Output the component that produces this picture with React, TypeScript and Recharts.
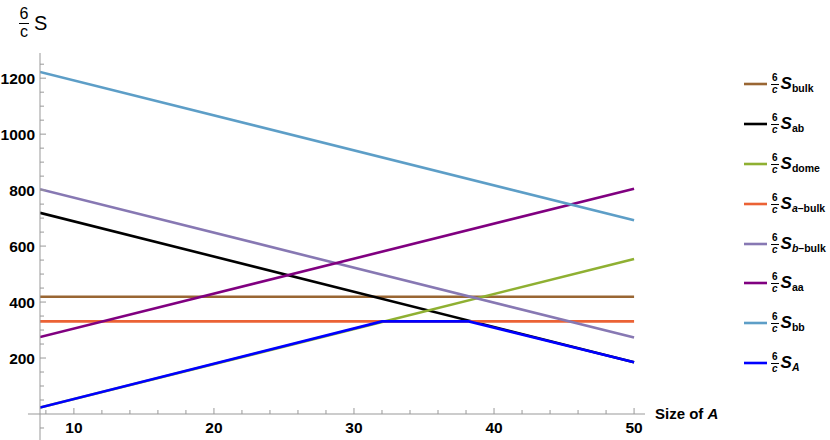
import React from 'react';
import { LineChart, Line, XAxis, YAxis, ReferenceLine } from 'recharts';

// ---------- data ----------
const X_MIN = 7.58;
const X_MAX = 50.78;
const Y_MIN = 0;
const Y_MAX = 1290;

const xTicks = [8, 10, 12, 14, 16, 18, 20, 22, 24, 26, 28, 30, 32, 34, 36, 38, 40, 42, 44, 46, 48, 50];
const xMajor = [10, 20, 30, 40, 50];
const yTicks = [50, 100, 150, 200, 250, 300, 350, 400, 450, 500, 550, 600, 650, 700, 750, 800, 850, 900, 950, 1000, 1050, 1100, 1150, 1200, 1250];
const yMajor = [200, 400, 600, 800, 1000, 1200];

const sBulk = [{ x: 7.58, y: 419 }, { x: 50, y: 419 }];
const sAb = [{ x: 7.58, y: 719 }, { x: 50, y: 185 }];
const sDome = [{ x: 7.58, y: 23 }, { x: 50, y: 554 }];
const sABulk = [{ x: 7.58, y: 331 }, { x: 50, y: 331 }];
const sBBulk = [{ x: 7.58, y: 803 }, { x: 50, y: 273 }];
const sAa = [{ x: 7.58, y: 275 }, { x: 50, y: 805 }];
const sBb = [{ x: 7.58, y: 1222 }, { x: 50, y: 692 }];
const sA = [{ x: 7.58, y: 23 }, { x: 32, y: 331 }, { x: 38.2, y: 331 }, { x: 50, y: 185 }];

type Series = { name: string; data: { x: number; y: number }[]; color: string; subPre?: string; sub: string; subItalic?: boolean };

const series: Series[] = [
  { name: 'bulk', data: sBulk, color: '#996633', sub: 'bulk' },
  { name: 'ab', data: sAb, color: '#000000', sub: 'ab' },
  { name: 'dome', data: sDome, color: '#8FB032', sub: 'dome' },
  { name: 'a-bulk', data: sABulk, color: '#EB6235', subPre: 'a', sub: '\u2013bulk' },
  { name: 'b-bulk', data: sBBulk, color: '#8778B3', subPre: 'b', sub: '\u2013bulk' },
  { name: 'aa', data: sAa, color: '#800080', sub: 'aa' },
  { name: 'bb', data: sBb, color: '#5D9EC7', sub: 'bb' },
  { name: 'A', data: sA, color: '#0000FF', sub: 'A', subItalic: true },
];

// ---------- styling ----------
const FONT = '"Liberation Sans", Arial, sans-serif';
const AXIS = '#999999';
const W = 830;
const H = 440;

const XTick = (props: any) => {
  const { x, y, payload } = props;
  const major = xMajor.includes(payload.value);
  return (
    <g>
      <line x1={x} x2={x} y1={y} y2={y - (major ? 6 : 4)} stroke={AXIS} strokeWidth={1} />
      {major && (
        <text x={x} y={y + 19} textAnchor="middle" fontFamily={FONT} fontWeight="bold" fontSize={15.5} fill="#000">
          {payload.value}
        </text>
      )}
    </g>
  );
};

const YTick = (props: any) => {
  const { x, y, payload } = props;
  const major = yMajor.includes(payload.value);
  return (
    <g>
      <line x1={x} x2={x + (major ? 6 : 4)} y1={y} y2={y} stroke={AXIS} strokeWidth={1} />
      {major && (
        <text x={x - 5} y={y + 5.5} textAnchor="end" fontFamily={FONT} fontWeight="bold" fontSize={15.5} fill="#000">
          {payload.value}
        </text>
      )}
    </g>
  );
};

const Frac = ({ size, italicC, bold }: { size: number; italicC?: boolean; bold?: boolean }) => (
  <span
    style={{
      display: 'inline-flex',
      flexDirection: 'column',
      alignItems: 'center',
      lineHeight: 1,
      fontSize: size,
      fontWeight: bold ? 'bold' : 'normal',
      marginRight: 2,
    }}
  >
    <span style={{ paddingBottom: 1 }}>6</span>
    <span style={{ borderTop: '1px solid #000', fontStyle: italicC ? 'italic' : 'normal', padding: '0 1px' }}>c</span>
  </span>
);

export default function App() {
  return (
    <div style={{ position: 'absolute', left: 0, top: 0, width: W, height: H, background: '#fff', fontFamily: FONT }}>
      <LineChart width={W} height={H} margin={{ top: 53, right: 185, bottom: 0, left: 0 }}>
        <XAxis
          type="number"
          dataKey="x"
          domain={[X_MIN, X_MAX]}
          ticks={xTicks}
          interval={0}
          tickSize={0}
          tickMargin={0}
          tickLine={false}
          axisLine={{ stroke: AXIS, strokeWidth: 1 }}
          tick={<XTick />}
          height={26}
          allowDataOverflow
        />
        <YAxis
          type="number"
          domain={[Y_MIN, Y_MAX]}
          ticks={yTicks}
          interval={0}
          tickSize={0}
          tickMargin={0}
          tickLine={false}
          axisLine={{ stroke: AXIS, strokeWidth: 1 }}
          tick={<YTick />}
          width={40}
          allowDataOverflow
        />
        {/* axis extensions (Mathematica-style axes crossing) */}
        <ReferenceLine segment={[{ x: X_MIN, y: 0 }, { x: X_MIN, y: -95 }]} stroke={AXIS} strokeWidth={1} ifOverflow="visible" />
        <ReferenceLine segment={[{ x: X_MIN, y: -50 }, { x: X_MIN + 0.29, y: -50 }]} stroke={AXIS} strokeWidth={1} ifOverflow="visible" />
        <ReferenceLine segment={[{ x: X_MIN - 0.86, y: 0 }, { x: X_MIN, y: 0 }]} stroke={AXIS} strokeWidth={1} ifOverflow="visible" />
        {series.map((s) => (
          <Line
            key={s.name}
            data={s.data}
            dataKey="y"
            type="linear"
            stroke={s.color}
            strokeWidth={2.6}
            dot={false}
            activeDot={false}
            isAnimationActive={false}
          />
        ))}
      </LineChart>

      {/* y-axis label */}
      <div style={{ position: 'absolute', left: 19, top: 6, display: 'flex', alignItems: 'center', color: '#000' }}>
        <Frac size={16} />
        <span style={{ fontSize: 20, marginLeft: 3 }}>S</span>
      </div>

      {/* x-axis label */}
      <div style={{ position: 'absolute', left: 655, top: 405, fontSize: 15, fontWeight: 'bold', color: '#000', lineHeight: '18px' }}>
        Size of <i>A</i>
      </div>

      {/* legend */}
      <div style={{ position: 'absolute', left: 744, top: 64, color: '#000' }}>
        {series.map((s) => (
          <div key={s.name} style={{ height: 39.9, display: 'flex', alignItems: 'center' }}>
            <svg width={24} height={6} style={{ marginRight: 3 }}>
              <line x1={0} x2={23} y1={3} y2={3} stroke={s.color} strokeWidth={2.6} />
            </svg>
            <Frac size={10} italicC bold />
            <span style={{ fontSize: 17, fontStyle: 'italic', fontWeight: 'bold' }}>S</span>
            <span style={{ fontSize: 10.5, fontWeight: 'bold', position: 'relative', top: 4 }}>
              {s.subPre && <i>{s.subPre}</i>}
              {s.subItalic ? <i>{s.sub}</i> : s.sub}
            </span>
          </div>
        ))}
      </div>
    </div>
  );
}
